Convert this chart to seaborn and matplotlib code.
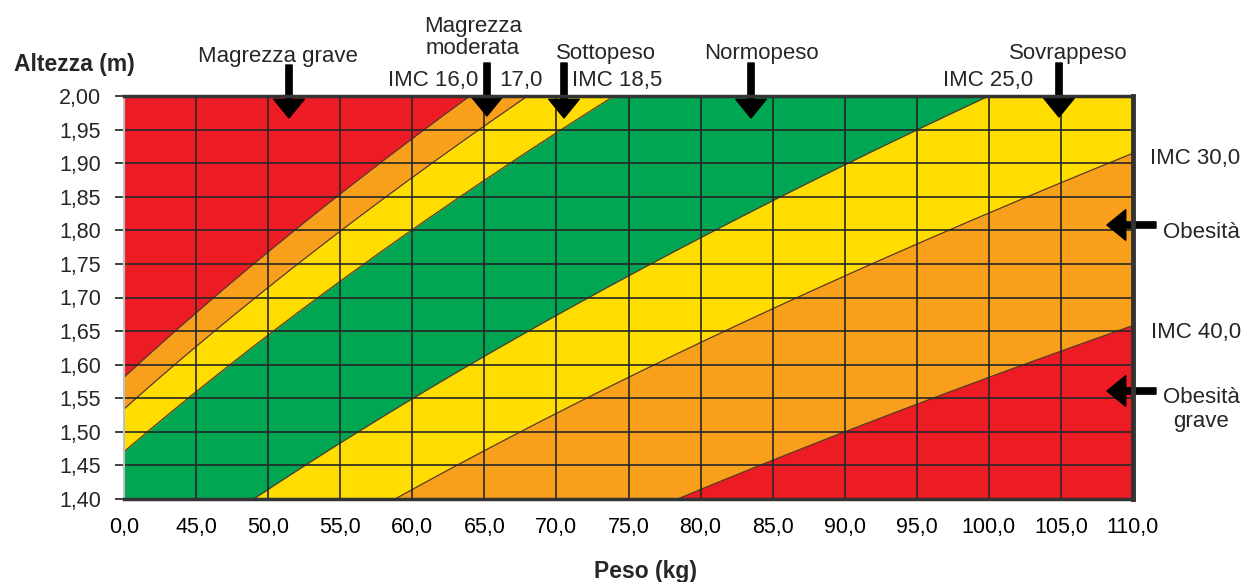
import numpy as np
import pandas as pd
import matplotlib
matplotlib.use("Agg")
import matplotlib.pyplot as plt
import seaborn as sns

# BMI (IMC) thresholds that separate the bands, and the band colours
imc_thresholds = [16.0, 17.0, 18.5, 25.0, 30.0, 40.0]
band_colors = ['#ED1C24', '#F8A01C', '#FFDD00', '#00A651', '#FFDD00', '#F8A01C', '#ED1C24']

weight_ticks = [40, 45, 50, 55, 60, 65, 70, 75, 80, 85, 90, 95, 100, 105, 110]
weight_labels = ['0,0', '45,0', '50,0', '55,0', '60,0', '65,0', '70,0', '75,0',
                 '80,0', '85,0', '90,0', '95,0', '100,0', '105,0', '110,0']
height_ticks = [1.40, 1.45, 1.50, 1.55, 1.60, 1.65, 1.70, 1.75, 1.80, 1.85, 1.90, 1.95, 2.00]
height_labels = ['1,40', '1,45', '1,50', '1,55', '1,60', '1,65', '1,70', '1,75',
                 '1,80', '1,85', '1,90', '1,95', '2,00']

W, H = 1244, 582


def fx(px):
    return px / W


def fy(py):
    return 1 - py / H


sns.set_style("white")
plt.rcParams['font.family'] = ['Liberation Sans', 'DejaVu Sans']

fig = plt.figure(figsize=(W / 100, H / 100), dpi=100)
fig.patch.set_facecolor('white')
ax = fig.add_axes([fx(124), fy(499), (1133 - 124) / W, (499 - 96) / H])

# weight on each threshold curve: weight = IMC * height^2
heights = np.linspace(1.40, 2.00, 300)
curves = [t * heights ** 2 for t in imc_thresholds]
edges = [np.zeros_like(heights)] + curves + [np.full_like(heights, 300.0)]
for i, col in enumerate(band_colors):
    ax.fill_betweenx(heights, edges[i], edges[i + 1], color=col, linewidth=0, zorder=1)

rows = []
for t, c in zip(imc_thresholds, curves):
    for h, w in zip(heights, c):
        rows.append({'imc': t, 'peso': w, 'altezza': h})
df = pd.DataFrame(rows)
sns.lineplot(data=df, x='peso', y='altezza', hue='imc', units='imc', estimator=None,
             palette=['#5a3a20'] * len(imc_thresholds), sort=False, legend=False,
             linewidth=0.9, ax=ax, zorder=2)

ax.set_xlim(40, 110)
ax.set_ylim(1.40, 2.00)
ax.set_xticks(weight_ticks)
ax.set_xticklabels(weight_labels)
ax.set_yticks(height_ticks)
ax.set_yticklabels(height_labels)
ax.set_xlabel('')
ax.set_ylabel('')

ax.set_axisbelow(False)
ax.grid(True, color='#262626', linewidth=1.2, zorder=3)
ax.tick_params(axis='x', length=0, pad=13, labelsize=15.5, colors='black')
ax.tick_params(axis='y', length=6.5, width=1.3, color='#333333', pad=10, labelsize=15.5,
               direction='out', left=True)

for side, col, lw in [('top', '#333333', 2.5), ('bottom', '#333333', 2.5),
                      ('right', '#333333', 3.5), ('left', '#c0c0c0', 1.5)]:
    ax.spines[side].set_visible(True)
    ax.spines[side].set_color(col)
    ax.spines[side].set_linewidth(lw)
    ax.spines[side].set_zorder(5)

# axis titles
fig.text(fx(74), fy(71), 'Altezza (m)', ha='center', va='baseline', fontsize=16.5, fontweight='bold')
fig.text(fx(645), fy(578), 'Peso (kg)', ha='center', va='baseline', fontsize=16.5, fontweight='bold')

# category labels
labels = [
    ('Magrezza grave', 278, 62),
    ('Magrezza', 473, 32),
    ('moderata', 473, 54),
    ('IMC 16,0', 433, 86),
    ('17,0', 521, 86),
    ('Sottopeso', 606, 59),
    ('IMC 18,5', 617, 86),
    ('Normopeso', 761, 59),
    ('IMC 25,0', 988, 86),
    ('Sovrappeso', 1068, 59),
    ('IMC 30,0', 1195, 164),
    ('Obesità', 1201, 238),
    ('IMC 40,0', 1196, 338),
    ('Obesità', 1201, 403),
    ('grave', 1201, 427),
]
for txt, x, y in labels:
    fig.text(fx(x), fy(y), txt, ha='center', va='baseline', fontsize=16)

arrow_style = dict(facecolor='black', edgecolor='black', width=4.5, headwidth=22,
                   headlength=13.5, shrink=0)
arrows = [
    ((289, 65), (289, 118)),
    ((487, 63), (487, 116)),
    ((564, 63), (564, 118)),
    ((751, 63), (751, 118)),
    ((1059, 63), (1059, 117)),
    ((1156, 225), (1107, 225)),
    ((1156, 391), (1107, 391)),
]
for (x0, y0), (x1, y1) in arrows:
    ax.annotate('', xy=(fx(x1), fy(y1)), xytext=(fx(x0), fy(y0)),
                xycoords='figure fraction', textcoords='figure fraction',
                arrowprops=arrow_style, annotation_clip=False)

fig.savefig('out.png', dpi=100, facecolor='white')
